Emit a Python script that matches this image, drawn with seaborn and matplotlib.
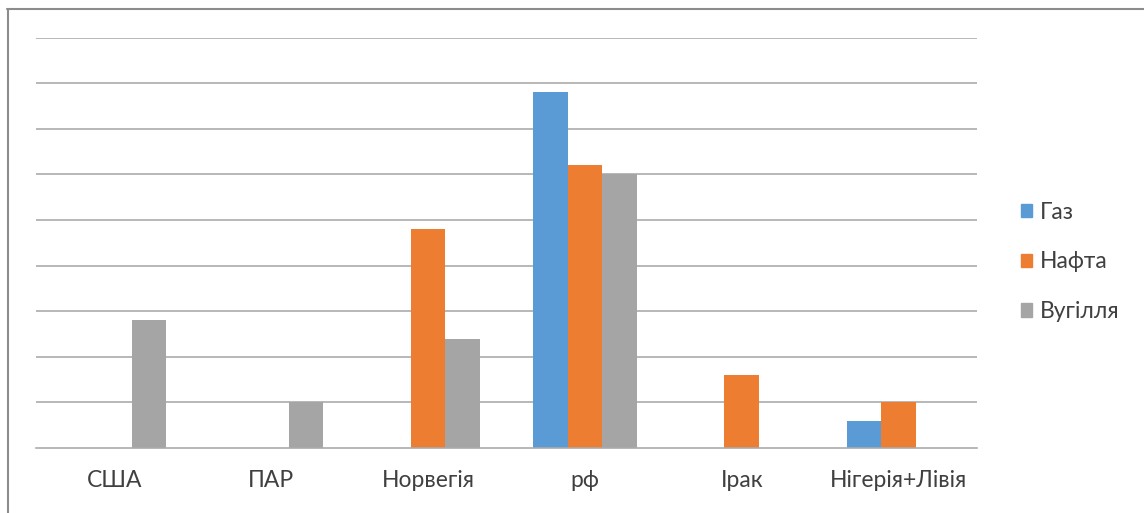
import pandas as pd
import seaborn as sns
import matplotlib.pyplot as plt
from matplotlib.lines import Line2D

countries = ['США', 'ПАР', 'Норвегія', 'рф', 'Ірак', 'Нігерія+Лівія']
gas = [0, 0, 0, 78, 0, 6]
oil = [0, 0, 48, 62, 16, 10]
coal = [28, 10, 24, 60, 0, 0]
series = ['Газ', 'Нафта', 'Вугілля']
colors = ['#5B9BD5', '#ED7D31', '#A5A5A5']

df = pd.DataFrame({
    'country': countries * 3,
    'resource': [s for s in series for _ in countries],
    'value': gas + oil + coal,
})

sns.set_style('white')
plt.rcParams['font.family'] = ['Lato', 'DejaVu Sans']

fig = plt.figure(figsize=(11.44, 5.13), dpi=100)
ax = fig.add_axes([36 / 1144, 1 - 448 / 513, (977 - 36) / 1144, (448 - 37.6) / 513])

sns.barplot(df, x='country', y='value', hue='resource', palette=colors, saturation=1,
            width=0.66, ax=ax, legend=False, edgecolor='none', linewidth=0)

ax.set_ylim(0, 90)
ax.set_xlim(-0.5, 5.5)
ax.set_yticks(range(10, 91, 10))
ax.yaxis.grid(True, color='#ABABAB', linewidth=1.2)
ax.set_axisbelow(True)
ax.tick_params(axis='y', left=False, labelleft=False)
ax.set_xlabel('')
ax.set_ylabel('')
ax.set_xticks(range(6))
ax.set_xticklabels(countries, fontsize=16.5, color='#404040')
ax.tick_params(axis='x', length=0, pad=16)
ax.set_xticks([i - 0.5 for i in range(7)], minor=True)
ax.tick_params(axis='x', which='minor', length=8, width=1.2, color='#ABABAB')
for side in ['top', 'right', 'left']:
    ax.spines[side].set_visible(False)
ax.spines['bottom'].set_color('#ABABAB')
ax.spines['bottom'].set_linewidth(1.2)

handles = [plt.Rectangle((0, 0), 1, 1, color=c) for c in colors]
fig.legend(handles, series, loc='center left', bbox_to_anchor=(1000 / 1144, 1 - 262 / 513),
           frameon=False, fontsize=16.5, handlelength=0.5, handleheight=0.5,
           handletextpad=0.35, labelspacing=1.25, labelcolor='#404040')

# outer chart border (top and left only visible)
fig.add_artist(Line2D([7 / 1144, 1], [1 - 8.5 / 513] * 2, color='#8C8C8C', linewidth=1.5))
fig.add_artist(Line2D([7.5 / 1144] * 2, [0, 1 - 8.5 / 513], color='#8C8C8C', linewidth=1.5))

fig.savefig('out.png', dpi=100)
